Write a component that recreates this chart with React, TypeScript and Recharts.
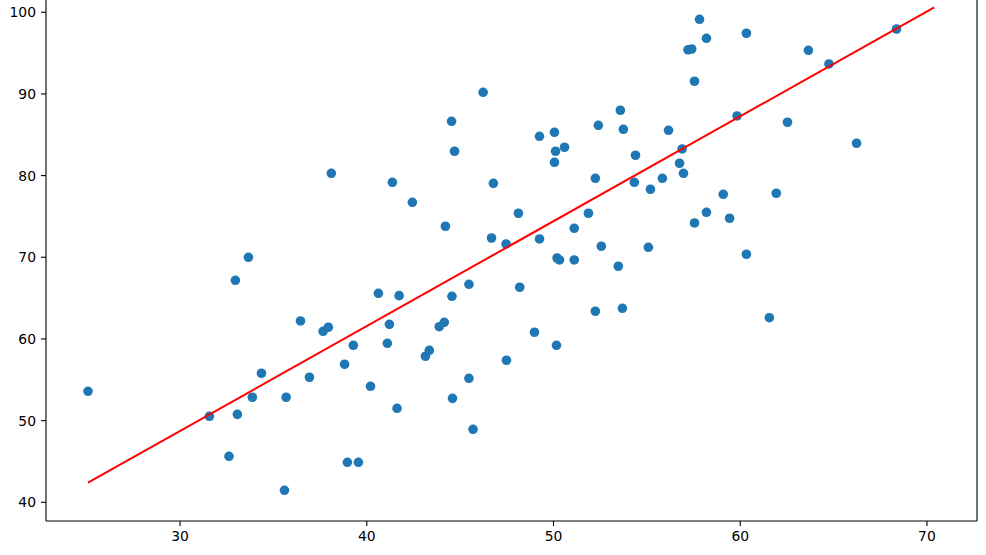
import {
  ScatterChart,
  Scatter,
  XAxis,
  YAxis,
  ReferenceLine,
} from "recharts";

const xs = [
  25.07, 32.96, 33.66, 36.45, 37.66, 37.94, 34.36, 36.93, 33.87, 35.68,
  31.57, 33.07, 32.62, 35.59, 38.1, 41.37, 42.44, 44.21, 46.23, 44.54,
  44.7, 46.78, 48.12, 46.68, 47.46, 49.25, 50.05, 50.11, 50.59, 50.05,
  49.25, 50.19, 50.32, 51.11, 51.11, 51.87, 52.24, 52.4, 53.58, 53.74,
  54.39, 54.33, 52.56, 53.47, 55.19, 55.08, 57.82, 58.19, 57.2, 57.4,
  60.33, 57.55, 63.65, 64.75, 68.37, 59.83, 62.53, 56.16, 66.23, 56.89,
  56.75, 56.96, 55.83, 59.09, 61.93, 58.19, 59.43, 57.55, 60.33, 61.56,
  40.62, 41.73, 44.56, 45.47, 48.19, 41.21, 43.88, 44.15, 39.28, 41.1,
  43.14, 43.35, 38.81, 40.2, 41.62, 45.47, 44.59, 45.69, 38.96, 39.55,
  47.48, 48.98, 50.16, 52.24, 53.69,
];
const ys = [
  53.59, 67.18, 70.0, 62.2, 60.94, 61.43, 55.8, 55.31, 52.86, 52.86,
  50.53, 50.77, 45.63, 41.47, 80.28, 79.18, 76.73, 73.8, 90.2, 86.65,
  82.98, 79.06, 75.39, 72.36, 71.63, 84.81, 85.3, 82.98, 83.47, 81.63,
  72.24, 69.91, 69.67, 73.55, 69.67, 75.39, 79.67, 86.16, 88.0, 85.67,
  82.49, 79.18, 71.35, 68.9, 78.33, 71.22, 99.14, 96.81, 95.4, 95.5,
  97.43, 91.55, 95.34, 93.67, 97.95, 87.3, 86.53, 85.55, 83.96, 83.26,
  81.51, 80.28, 79.67, 77.71, 77.84, 75.51, 74.78, 74.2, 70.37, 62.6,
  65.59, 65.3, 65.22, 66.69, 66.33, 61.79, 61.5, 62.04, 59.22, 59.47,
  57.88, 58.61, 56.9, 54.2, 51.51, 55.18, 52.73, 48.94, 44.9, 44.9,
  57.39, 60.82, 59.22, 63.39, 63.75,
];

// fitted line ends
const fitX = [25.07, 70.39];
const fitY = [42.4, 100.61];

const xTicks = [30, 40, 50, 60, 70];
const yTicks = [40, 50, 60, 70, 80, 90, 100];

const X_DOMAIN: [number, number] = [22.82, 72.68];
const Y_DOMAIN: [number, number] = [37.71, 101.5];

const points = xs.map((x, i) => ({ x, y: ys[i] }));
const fitLine = fitX.map((x, i) => ({ x, y: fitY[i] }));

const tickStyle = { fontSize: 13.9, fill: "#000", fontFamily: "DejaVu Sans" };

const Dot = (props: any) => (
  <circle cx={props.cx} cy={props.cy} r={4.8} fill="#1f77b4" />
);

export default function App() {
  return (
    <div style={{ position: "absolute", left: 0, top: 0, background: "#fff" }}>
      <ScatterChart
        width={986}
        height={555}
        margin={{ top: 0, right: 9, bottom: 0, left: 0 }}
      >
        <XAxis
          type="number"
          dataKey="x"
          domain={X_DOMAIN}
          ticks={xTicks}
          allowDataOverflow
          height={34}
          tick={tickStyle}
          tickSize={5}
          tickMargin={5}
          axisLine={{ stroke: "#000", strokeWidth: 1.1 }}
          tickLine={{ stroke: "#000", strokeWidth: 1.1 }}
        />
        <YAxis
          type="number"
          dataKey="y"
          domain={Y_DOMAIN}
          ticks={yTicks}
          allowDataOverflow
          width={46}
          tick={tickStyle}
          tickSize={5}
          tickMargin={5}
          axisLine={{ stroke: "#000", strokeWidth: 1.1 }}
          tickLine={{ stroke: "#000", strokeWidth: 1.1 }}
        />
        <ReferenceLine x={X_DOMAIN[1]} stroke="#000" strokeWidth={1.1} />
        <Scatter data={points} shape={Dot} isAnimationActive={false} />
        <Scatter
          data={fitLine}
          line={{ stroke: "#ff0000", strokeWidth: 2 }}
          shape={() => <g />}
          isAnimationActive={false}
        />
      </ScatterChart>
    </div>
  );
}
